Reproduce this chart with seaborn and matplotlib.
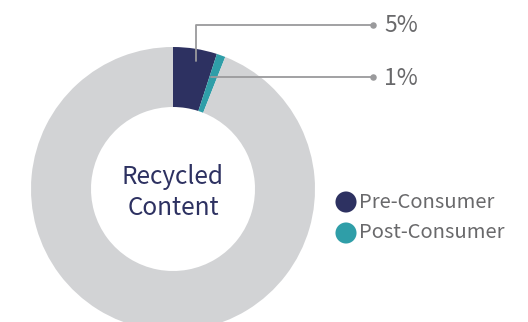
import matplotlib
matplotlib.use("Agg")
import matplotlib.pyplot as plt
import seaborn as sns
import pandas as pd

# Recycled content shares (%)
categories = ["Pre-Consumer", "Post-Consumer", "Other"]
shares = [5, 1, 94]
labels = ["5%", "1%", None]
colors = ["#2d3161", "#2f9ea8", "#d2d3d5"]

sns.set_theme(style="white")
plt.rcParams["font.family"] = ["Noto Sans CJK KR", "DejaVu Sans"]

W, H = 528, 322
fig = plt.figure(figsize=(W / 100, H / 100), dpi=100)
ax = fig.add_axes([0, 0, 1, 1])
ax.set_xlim(0, W)
ax.set_ylim(0, H)
ax.set_aspect("equal")
ax.axis("off")

cx, cy, r_out, r_in = 173, 322 - 189, 142, 82
wedges, _ = ax.pie(shares, colors=colors, startangle=90, counterclock=False,
                   radius=r_out, center=(cx, cy),
                   wedgeprops=dict(width=r_out - r_in, linewidth=0))
ax.set_xlim(0, W)
ax.set_ylim(0, H)

for y, word in zip([322 - 177, 322 - 208], ["Recycled", "Content"]):
    ax.text(cx, y, word, ha="center", va="center",
            fontsize=17.5, color="#2d3161", fontweight="medium")

# Leader lines for the percentage labels
line_c = "#9a9a9c"
end_x = 373
# 5% label: elbow line from the dark wedge
ax.plot([196, 196, end_x], [322 - 61, 322 - 24.5, 322 - 24.5], color=line_c, lw=1.3)
# 1% label: straight line from the teal wedge
ax.plot([211, end_x], [322 - 77, 322 - 77], color=line_c, lw=1.3)
ends = pd.DataFrame({"x": [end_x, end_x], "y": [322 - 24.5, 322 - 77]})
sns.scatterplot(data=ends, x="x", y="y", ax=ax, color=line_c, s=22,
                linewidth=0, legend=False)
for y, lab in zip([322 - 25, 322 - 78], labels[:2]):
    ax.text(384, y, lab, ha="left", va="center", fontsize=16.5, color="#69696b")

# Legend entries
leg = pd.DataFrame({"x": [346, 346], "y": [322 - 202, 322 - 233],
                    "cat": categories[:2]})
sns.scatterplot(data=leg, x="x", y="y", hue="cat", palette=colors[:2], ax=ax,
                s=230, linewidth=0, legend=False)
for y, cat in zip(leg["y"], leg["cat"]):
    ax.text(359, y, cat, ha="left", va="center", fontsize=14.5,
            color="#69696b")

fig.savefig("out.png", dpi=100)
